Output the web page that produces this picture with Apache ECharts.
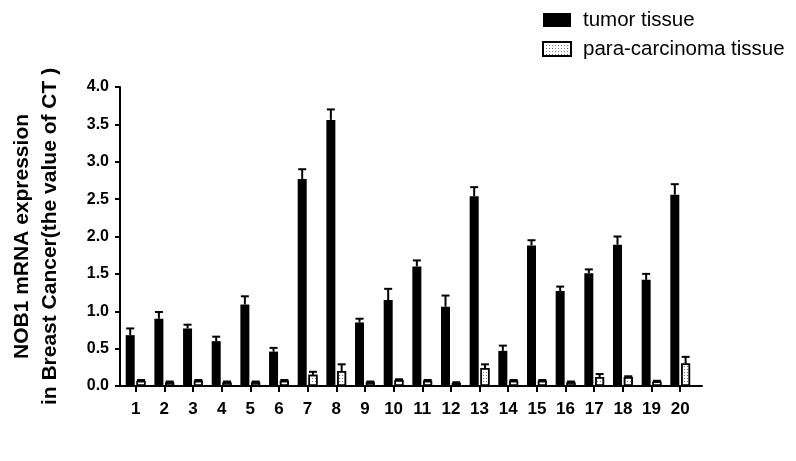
<!DOCTYPE html>
<html>
<head>
<meta charset="utf-8">
<script src="https://cdn.jsdelivr.net/npm/echarts@6/dist/echarts.min.js"></script>
<style>html,body{margin:0;padding:0;background:#fff}#c{width:796px;height:461px}</style>
</head>
<body>
<div id="c"></div>
<script>
var categories = [1,2,3,4,5,6,7,8,9,10,11,12,13,14,15,16,17,18,19,20];
var tumorMean = [0.68,0.90,0.77,0.60,1.09,0.46,2.77,3.56,0.85,1.15,1.60,1.06,2.54,0.47,1.88,1.27,1.51,1.89,1.42,2.56];
var tumorErrTop = [0.77,0.99,0.82,0.66,1.20,0.51,2.90,3.70,0.90,1.30,1.68,1.21,2.66,0.54,1.95,1.33,1.56,2.00,1.50,2.70];
var paraMean = [0.07,0.05,0.07,0.05,0.05,0.07,0.15,0.20,0.05,0.08,0.07,0.04,0.24,0.07,0.07,0.05,0.12,0.12,0.06,0.30];
var paraErrTop = [0.08,0.06,0.08,0.06,0.06,0.08,0.19,0.29,0.06,0.09,0.08,0.05,0.29,0.08,0.08,0.06,0.16,0.13,0.07,0.39];
var yTicks = [0,0.5,1,1.5,2,2.5,3,3.5,4];

var FONT = '"Liberation Sans", Arial, sans-serif';
var BAR_W = 9, OFFSET = 5.4;

function pairs(vals){ return categories.map(function(c,i){ return [c, vals[i]]; }); }
function triples(m, e){ return categories.map(function(c,i){ return [c, m[i], e[i]]; }); }

function errRender(off){
  return function(params, api){
    var x = api.value(0);
    var p0 = api.coord([x, api.value(1)]);
    var p1 = api.coord([x, api.value(2)]);
    var cx = p0[0] + off;
    return {
      type: 'group',
      children: [
        {type:'line', shape:{x1:cx, y1:p0[1], x2:cx, y2:p1[1]}, style:{stroke:'#000', lineWidth:2}},
        {type:'line', shape:{x1:cx-4, y1:p1[1], x2:cx+4, y2:p1[1]}, style:{stroke:'#000', lineWidth:2}}
      ]
    };
  };
}

var chart = echarts.init(document.getElementById('c'), null, {renderer:'canvas'});
chart.setOption({
  animation: false,
  backgroundColor: '#fff',
  legend: {
    orient: 'vertical',
    left: 537, top: 4,
    icon: 'rect',
    itemWidth: 28, itemHeight: 14, itemGap: 7,
    textStyle: {fontFamily: FONT, fontSize: 20.5, color: '#000', lineHeight: 22, padding: [0, 0, 0, 7]},
    data: ['tumor tissue', 'para-carcinoma tissue']
  },
  grid: {left: 117, right: 94, top: 87, bottom: 75},
  xAxis: {
    type: 'value',
    min: 0.455, max: 20.76,
    splitLine: {show: false},
    axisLine: {show: true, lineStyle: {color: '#000', width: 2}},
    axisTick: {show: true, length: 6, lineStyle: {color: '#000', width: 2}, customValues: categories},
    axisLabel: {color: '#000', fontFamily: FONT, fontWeight: 'bold', fontSize: 17, margin: 15, customValues: categories}
  },
  yAxis: {
    type: 'value',
    min: 0, max: 4, interval: 0.5,
    splitLine: {show: false},
    axisLine: {show: true, lineStyle: {color: '#000', width: 2}},
    axisTick: {show: true, length: 5, lineStyle: {color: '#000', width: 2}},
    axisLabel: {color: '#000', fontFamily: FONT, fontWeight: 'bold', fontSize: 16, margin: 11,
      formatter: function(v){ return v.toFixed(1); }},
    name: 'NOB1 mRNA expression\nin Breast Cancer(the value of CT )',
    nameLocation: 'middle',
    nameGap: 56,
    nameTextStyle: {color: '#000', fontFamily: FONT, fontWeight: 'bold', fontSize: 21, lineHeight: 28}
  },
  series: [
    {
      name: 'tumor tissue', type: 'bar', barWidth: BAR_W, barGap: '20%',
      itemStyle: {color: '#000', borderColor: '#000', borderWidth: 0},
      data: pairs(tumorMean), z: 3
    },
    {
      name: 'para-carcinoma tissue', type: 'bar', barWidth: BAR_W, barGap: '20%',
      itemStyle: {color: '#fff', borderColor: '#000', borderWidth: 1.5,
        decal: {symbol: 'rect', symbolSize: 1, dashArrayX: [1, 2], dashArrayY: [1, 2], color: '#777'}},
      data: pairs(paraMean), z: 3
    },
    {
      type: 'custom', renderItem: errRender(-OFFSET), data: triples(tumorMean, tumorErrTop), z: 2,
      encode: {x: 0, y: [1, 2]}, silent: true
    },
    {
      type: 'custom', renderItem: errRender(OFFSET), data: triples(paraMean, paraErrTop), z: 2,
      encode: {x: 0, y: [1, 2]}, silent: true
    }
  ]
});
</script>
</body>
</html>
